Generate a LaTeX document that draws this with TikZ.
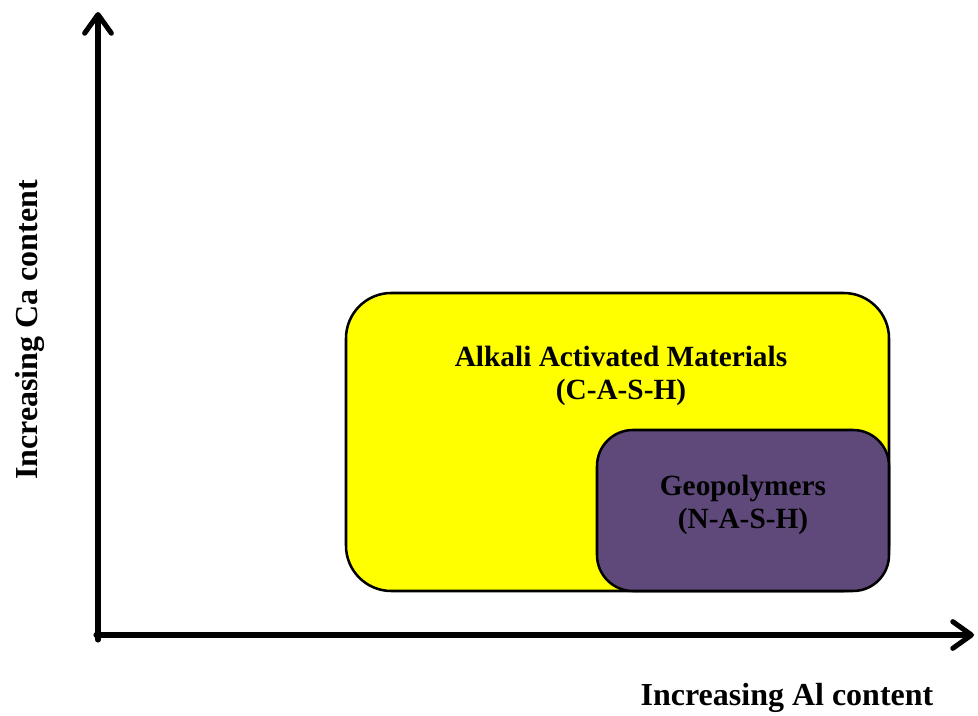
\documentclass[tikz,border=0pt]{standalone}
\usepackage{fontspec}
\setmainfont{Liberation Serif}
\usetikzlibrary{arrows.meta}
\definecolor{geo}{HTML}{5F497A}
\definecolor{yel}{RGB}{255,255,0}
\tikzset{
  axis/.style={line width=3.8pt, line cap=round, -{Straight Barb[length=14pt,width=20pt,line width=3.8pt,round]}},
  region/.style={draw=black, line width=1.9pt},
  lbl/.style={font=\fontsize{22}{25}\selectfont\bfseries, align=center, inner sep=0pt},
  axlbl/.style={font=\fontsize{24}{28}\selectfont\bfseries, inner sep=0pt},
}
\begin{document}
\begin{tikzpicture}[x=0.75pt,y=-0.75pt]
\useasboundingbox (0,0) rectangle (978,716);
\coordinate (O) at (98,635);
\coordinate (Ytip) at (98,12);
\coordinate (Xtip) at (974,635);
\draw[axis] (98,640) -- (Ytip);
\draw[axis] (96,635) -- (Xtip);
\draw[region, fill=yel, rounded corners=34pt] (346,293) rectangle (889,591);
\draw[region, fill=geo, rounded corners=27pt] (597,430) rectangle (889,591);
\node[lbl] (aam) at (621,376) {Alkali Activated Materials\\(C-A-S-H)};
\node[lbl] (gp) at (743,505) {Geopolymers\\(N-A-S-H)};
\node[axlbl, anchor=base] (xl) at (787,705) {Increasing Al content};
\node[axlbl, rotate=90, anchor=base] (yl) at (37,330) {Increasing Ca content};
\end{tikzpicture}
\end{document}
